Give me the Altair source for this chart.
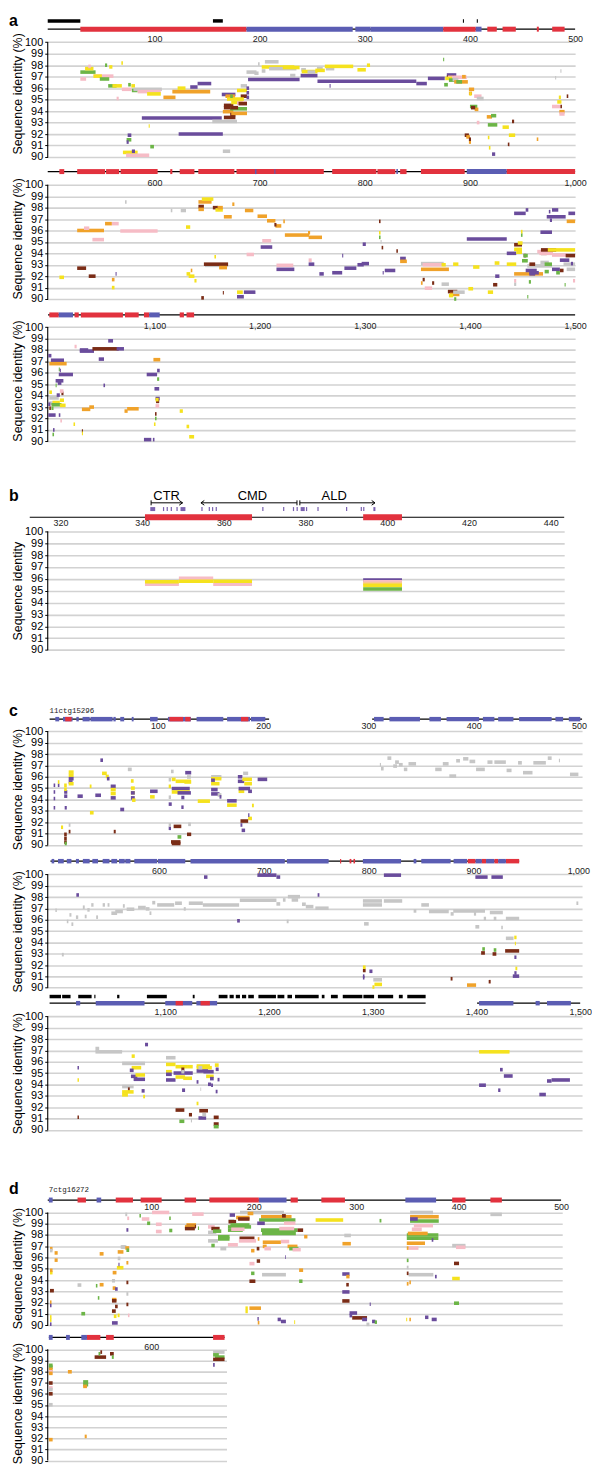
import altair as alt
import pandas as pd

NARROW = "Liberation Sans Narrow, Arial Narrow, Liberation Sans, Arial, sans-serif"
SANS = "Liberation Sans, Arial, Helvetica, sans-serif"
MONO = "Liberation Mono, DejaVu Sans Mono, monospace"

COLOR_KEYS = ["P", "Y", "O", "B", "G", "K", "S", "Q", "R", "U", "N"]
COLOR_VALS = ["#6a4c9c", "#f5e21e", "#f0a22a", "#7a2c16", "#6cb547", "#f6bcc6",
              "#c6c6c6", "#f8c894", "#e2323e", "#5b5db3", "#111111"]

# ---------------- panel a, row 1 ----------------
A1_TICKS = [100, 200, 300, 400, 500]
A1_LINE = [(-1.5, 500)]
A1_EXONS = [(29.5, 187.5, "R"), (187.5, 288.5, "U"), (291, 305.5, "U"), (305.5, 374.6, "U"),
            (374.6, 405.5, "R"), (405.5, 411, "U"), (416.5, 425.5, "R"), (431, 443.6, "R"),
            (463.6, 465.5, "R"), (478.2, 490, "R")]
A1_BARS = [(-1.5, 29.5), (155.6, 165), (393.3, 394.3), (406.5, 407.5)]
A1_SEGS = [
    (29.5, 35, 96.8, "K"), (29.5, 44, 97.4, "G"), (34, 42, 97.7, "Y"), (37, 39.5, 97.9, "K"),
    (42, 61, 97.05, "K"), (42, 50, 97.05, "Y"), (48, 57, 96.8, "G"), (53, 55, 98.0, "G"),
    (57, 60, 97.85, "Y"), (68.5, 70, 98.2, "Y"), (56, 64, 96.2, "G"), (60, 69, 96.2, "Y"),
    (64, 66, 95.1, "K"), (75, 77.5, 96.3, "G"), (69, 78, 95.9, "K"), (78, 81.5, 96.2, "Y"),
    (78.5, 84, 95.8, "G"), (80, 107, 95.9, "S"), (84, 106, 95.7, "K"), (93, 106, 95.5, "Y"),
    (108.5, 120, 95.2, "O"), (117, 153, 95.7, "O"), (122, 129.5, 96.0, "Y"), (134, 141, 96.1, "P"),
    (141, 154, 96.4, "P"), (88, 164, 93.4, "P"), (123, 165, 92.0, "P"), (155, 178.5, 93.1, "S"),
    (74.5, 78, 91.9, "P"), (73.5, 78, 91.5, "G"), (73.5, 75.5, 91.3, "P"), (96, 99.5, 90.9, "G"),
    (70, 84, 90.4, "Y"), (73, 95, 90.15, "K"), (78.5, 81.5, 90.5, "P"), (94.5, 95.5, 92.7, "Y"),
    (165, 172, 90.5, "S"), (164, 177, 95.45, "P"), (167.5, 176.5, 95.3, "O"), (166, 175, 94.5, "B"),
    (166, 175, 94.3, "B"), (165, 175, 93.95, "O"), (172, 177, 93.7, "B"), (173, 188, 93.8, "O"),
    (172, 188, 94.2, "G"), (172, 179.5, 94.3, "B"), (173, 184, 94.75, "Y"), (178.5, 188, 94.7, "K"),
    (180, 188, 94.65, "B"), (182, 188, 95.3, "B"), (169, 185, 95.05, "Y"), (166, 177, 93.45, "B"),
    (178.5, 188, 95.8, "Y"), (182, 188, 96.2, "S"), (172, 174.5, 95.3, "G"), (187.5, 190, 96.0, "P"),
    (187.5, 190, 95.6, "P"), (187.5, 190, 95.2, "P"), (187.5, 197, 97.4, "S"), (195, 199, 97.3, "S"),
    (198.5, 200, 98.1, "S"), (205, 218, 98.3, "S"), (202, 205.5, 97.5, "S"), (202, 233, 97.85, "Y"),
    (209, 235, 97.7, "S"), (222, 238, 97.8, "Y"), (229, 234, 97.1, "S"), (189, 238, 96.75, "P"),
    (239, 255, 97.1, "P"), (239.5, 244, 97.6, "S"), (240, 255, 97.45, "Y"), (245.5, 253, 97.4, "S"),
    (254.5, 260, 97.7, "S"), (253, 262, 97.55, "Y"), (263, 271, 97.7, "S"), (262, 289, 97.9, "Y"),
    (255, 349, 96.6, "P"), (349, 359, 96.4, "P"), (360, 376, 96.85, "P"), (293, 301, 97.6, "Y"),
    (302, 305, 98.0, "Y"), (266.5, 267.5, 96.2, "P"), (374.5, 375.5, 98.5, "G"), (378, 387, 97.15, "P"),
    (378, 385, 96.95, "B"), (379, 397, 96.95, "K"), (376.5, 383, 96.85, "Y"), (375.5, 379, 96.3, "G"),
    (380, 387, 96.7, "G"), (383.5, 389, 96.75, "S"), (385, 398, 96.55, "O"), (387, 392.5, 96.55, "G"),
    (392.5, 396, 97.0, "O"), (399, 404, 95.9, "O"), (399, 402, 95.55, "O"), (399.5, 401.5, 95.5, "Y"),
    (404, 411, 95.3, "K"), (406.5, 413, 95.1, "S"), (400, 407, 94.4, "G"), (404.5, 408, 94.15, "O"),
    (401, 405, 94.3, "B"), (395, 399, 91.9, "B"), (396.5, 400, 91.75, "O"), (399, 401, 91.3, "O"),
    (399, 401, 91.55, "B"), (406.5, 409, 93.0, "K"), (416, 421, 93.5, "O"), (420, 425, 93.6, "G"),
    (417, 426, 92.8, "G"), (431, 437, 92.6, "Y"), (440, 442, 93.1, "B"), (437, 443, 91.9, "Y"),
    (417, 418.5, 91.7, "Y"), (418, 419.5, 90.8, "Y"), (436, 437.5, 91.1, "B"), (421, 424, 90.25, "P"),
    (463.5, 465, 91.55, "O"), (483, 487, 94.8, "Y"), (478, 486, 94.4, "K"), (486, 487.5, 94.4, "B"),
    (484.5, 486.5, 95.2, "Y"), (485, 490, 93.95, "O"), (485, 490, 93.75, "K"), (492, 493.5, 95.3, "B"),
    (486, 487, 97.5, "S"), (481, 482, 96.9, "S"),
]

# ---------------- panel a, row 2 ----------------
A2_TICKS = [600, 700, 800, 900, 1000]
A2_LINE = [(498.5, 1000)]
A2_EXONS = [(509.6, 514.2, "R"), (526.5, 553, "R"), (554, 566.4, "R"), (567.8, 603, "R"),
            (615, 617, "R"), (624, 638, "R"), (641.7, 676, "R"), (678, 761, "R"), (769, 811, "R"),
            (812, 829, "R"), (833.6, 839.7, "R"), (853.4, 895, "R"), (897, 935, "U"), (935, 1000, "R"),
            (695.5, 697, "U"), (714, 715, "U"), (830, 831.5, "U")]
A2_SEGS = [
    (509.6, 514, 91.9, "Y"), (526.5, 535, 92.7, "B"), (537.5, 544, 92.0, "B"), (526.5, 552, 96.0, "O"),
    (533, 538, 96.2, "K"), (541, 552, 95.2, "K"), (553, 559.5, 96.6, "O"), (559.5, 566, 96.6, "K"),
    (567.5, 603, 95.95, "K"), (559.5, 562, 91.7, "O"), (559.5, 562, 91.0, "Y"), (563, 564, 92.2, "P"),
    (572, 573.5, 98.5, "S"), (615.5, 617, 97.75, "S"), (625, 630, 97.75, "S"), (630, 634, 96.3, "Y"),
    (630.5, 634, 92.2, "Y"), (632.5, 638, 92.0, "Y"), (634.5, 636, 92.5, "O"), (638, 640, 91.6, "Y"),
    (641.8, 654.3, 98.5, "O"), (645, 656, 98.75, "Y"), (641.8, 647, 98.1, "B"), (641.8, 647, 97.85, "O"),
    (655.5, 660.5, 98.0, "B"), (658, 665, 97.8, "Y"), (660, 665, 98.0, "O"), (666, 673.5, 97.2, "O"),
    (674, 676, 98.3, "O"), (686, 694, 97.75, "O"), (698, 707, 97.25, "O"), (707, 715, 96.85, "O"),
    (715, 720.6, 96.4, "O"), (714, 716, 96.5, "B"), (722.5, 724, 96.8, "O"), (724, 747, 95.6, "O"),
    (746, 748, 95.8, "O"), (746.6, 759.3, 95.4, "O"), (702.5, 711, 95.1, "K"), (701, 712, 94.55, "P"),
    (687.6, 694.6, 93.9, "K"), (657, 658.5, 93.7, "Y"), (648, 670, 92.95, "S"), (647, 670, 93.05, "B"),
    (661.5, 669, 92.75, "O"), (716, 732, 92.95, "K"), (716, 733, 92.6, "P"), (746.6, 752, 93.05, "P"),
    (746.6, 749.5, 93.4, "K"), (756.8, 761, 92.2, "P"), (769, 778.5, 92.3, "P"), (780.6, 792, 92.7, "P"),
    (793, 799, 93.0, "P"), (797, 804, 93.1, "P"), (798, 801, 94.8, "P"), (778.5, 779.5, 93.8, "P"),
    (819, 829, 92.5, "P"), (833.6, 839, 93.55, "P"), (833.6, 840, 93.3, "O"), (830, 831.5, 94.2, "B"),
    (813.5, 815, 96.8, "B"), (813.5, 815, 95.8, "Y"), (813.5, 815, 95.4, "G"), (816, 817.5, 94.5, "B"),
    (815, 816, 95.0, "S"), (817, 818, 92.3, "P"), (678.5, 685, 90.2, "P"), (678.5, 684, 90.6, "Y"),
    (685, 696, 90.6, "P"), (644.5, 647, 90.1, "B"), (665, 666, 90.55, "B"), (853.4, 875, 93.1, "S"),
    (855, 873, 93.0, "K"), (853.4, 880, 92.6, "O"), (873, 877, 93.0, "Y"), (855, 857, 91.7, "B"),
    (864, 866, 91.4, "B"), (853.4, 855, 91.4, "O"), (857, 864, 90.95, "K"), (873, 880, 91.3, "S"),
    (879, 888, 90.65, "B"), (881, 890, 90.4, "O"), (880, 884, 90.3, "Y"), (884, 895, 90.6, "S"),
    (885, 887, 90.0, "G"), (897, 935, 95.25, "P"), (884, 889, 93.05, "Y"), (903, 909, 92.8, "Y"),
    (898.5, 903, 90.9, "Y"), (922, 926, 91.25, "B"), (917, 922, 90.6, "Y"), (924, 928, 92.0, "P"),
    (923.5, 928, 93.15, "Y"), (942, 969.5, 92.2, "O"), (935, 944, 93.05, "Y"), (954.5, 978, 92.9, "S"),
    (935, 944, 94.0, "P"), (942, 949.5, 94.75, "B"), (942, 949.5, 94.35, "Y"), (945.5, 950, 94.9, "Y"),
    (944, 949.5, 94.1, "Y"), (951, 953.5, 93.8, "B"), (951, 955, 93.8, "G"), (949.5, 955, 93.35, "G"),
    (953, 963.5, 92.5, "P"), (956.5, 965.5, 92.3, "P"), (956.5, 962, 93.05, "B"), (956.5, 962, 92.2, "P"),
    (967.5, 973, 94.0, "B"), (966, 979, 94.0, "K"), (964, 975, 94.15, "K"), (967.5, 982, 94.3, "B"),
    (974, 1000, 94.3, "Y"), (967, 975, 93.2, "S"), (971, 978, 93.05, "G"), (978, 993, 93.85, "K"),
    (991, 1000, 93.8, "B"), (985.5, 994.5, 93.4, "P"), (989, 1000, 93.05, "S"), (978, 985.5, 92.6, "P"),
    (985.5, 989, 92.5, "B"), (971, 975, 92.4, "G"), (982, 985.5, 92.3, "G"), (992, 1000, 92.6, "S"),
    (996, 998, 93.1, "P"), (967, 978, 95.85, "P"), (942, 953, 97.5, "P"), (953, 955.5, 97.8, "P"),
    (978, 984, 97.8, "P"), (973, 991, 97.2, "P"), (993.6, 1000, 97.5, "P"), (992, 1000, 96.8, "O"),
    (976, 978, 96.9, "P"), (975, 976.5, 97.65, "P"), (942, 944, 91.3, "S"), (942, 944, 91.6, "K"),
    (956, 958, 91.5, "G"), (990, 991, 91.25, "G"), (954.5, 955.5, 90.2, "G"), (948.5, 950, 95.6, "G"),
    (948.5, 950, 95.9, "Y"), (998, 1000, 91.6, "K"),
]

# ---------------- panel a, row 3 ----------------
A3_TICKS = [1100, 1200, 1300, 1400, 1500]
A3_LINE = [(998.8, 1500)]
A3_EXONS = [(1000, 1009, "R"), (1009, 1022.5, "U"), (1024, 1028, "R"), (1030, 1070, "R"),
            (1072, 1085, "R"), (1090, 1095, "R"), (1095, 1105, "U"), (1124, 1128, "R"),
            (1130.5, 1137.7, "R")]
A3_SEGS = [
    (999, 1002, 97.5, "P"), (1001.5, 1014, 97.1, "P"), (1000, 1016.5, 96.8, "O"), (1009, 1010, 96.3, "G"),
    (1009, 1022.5, 95.85, "P"), (1010, 1011, 96.2, "P"), (1006, 1013.4, 95.3, "P"), (1006, 1007, 94.9, "G"),
    (1008, 1011.5, 95.1, "P"), (1000, 1002.5, 94.3, "Y"), (1000, 1009, 93.8, "S"), (1007, 1010, 94.05, "P"),
    (1011.5, 1013.5, 94.2, "B"), (1010, 1013.5, 94.4, "K"), (1010, 1014, 93.6, "Y"), (1000, 1009, 93.35, "S"),
    (1003, 1010, 93.4, "Y"), (1002, 1011.6, 93.2, "G"), (1000, 1002, 93.0, "K"), (1010, 1015.5, 93.15, "Y"),
    (999, 1001, 93.25, "P"), (1000, 1001.5, 92.9, "B"), (1002, 1004, 92.9, "G"), (999, 1006, 92.3, "P"),
    (1009, 1010.5, 92.3, "P"), (1010.5, 1012, 91.8, "K"), (1003, 1004.5, 90.6, "G"), (1003.5, 1005, 91.0, "P"),
    (1024, 1026, 98.3, "K"), (1029, 1042.5, 97.9, "P"), (1041, 1066, 98.1, "B"), (1056, 1060.6, 98.8, "P"),
    (1064, 1071, 98.1, "P"), (1029, 1037, 98.0, "P"), (1047, 1052, 97.2, "P"), (1051.5, 1053, 94.9, "P"),
    (1031, 1039, 92.8, "O"), (1038, 1042.5, 93.0, "O"), (1023, 1024.5, 91.5, "Y"), (1031, 1032, 90.9, "B"),
    (1031, 1032, 90.7, "Y"), (1071.5, 1074.5, 92.65, "O"), (1074, 1085, 92.85, "O"), (1099, 1105.5, 97.15, "O"),
    (1092.6, 1102.5, 95.85, "P"), (1102.5, 1105, 96.2, "P"), (1102.5, 1104.5, 95.45, "G"), (1100, 1104.5, 94.6, "P"),
    (1101, 1105, 93.75, "P"), (1101.5, 1104.5, 93.5, "B"), (1101, 1104, 93.65, "Y"), (1101, 1104.5, 93.1, "K"),
    (1100.5, 1102, 92.0, "G"), (1100.5, 1102, 92.4, "B"), (1099.5, 1101, 91.5, "Y"), (1090, 1097, 90.15, "P"),
    (1098.5, 1100, 90.15, "P"), (1124, 1127, 92.65, "Y"), (1130.5, 1133, 91.3, "Y"), (1133, 1137.7, 90.4, "Y"),
]

# ---------------- panel b ----------------
B_TICKS = [320, 340, 360, 380, 400, 420, 440]
B_LINE = [(312.5, 443.3)]
B_EXONS = [(340.7, 366.9, "R"), (394.1, 403.6, "R")]
B_SITES = [(342.0, 343.2), (345.1, 345.4), (346.0, 346.3), (347.0, 347.3), (348.4, 348.7),
           (349.4, 350.6), (354.5, 354.8), (356.3, 356.6), (357.1, 357.4), (358.0, 358.3),
           (369.4, 369.7), (374.5, 374.8), (376.9, 377.2), (377.8, 378.1), (378.8, 379.8),
           (380.1, 380.4), (382.9, 383.2), (389.9, 390.2), (393.5, 393.8), (394.1, 394.4),
           (396.6, 397.1)]
B_DOMAINS = ["CTR", "CMD", "ALD"]
B_DOMAIN_MID = [346, 367, 387]
B_ARROWS = [(342.2, 349.9), (354.4, 377.9), (378.6, 397.0)]
B_HEAD_RIGHT = [349.9, 397.0]
B_HEAD_LEFT = [354.4]
B_STOPS = [342.2, 377.9, 378.6]
B_SEGS = [
    (340.7, 349, 95.55, "K"), (340.7, 349, 95.75, "Y"), (349, 357.4, 96.05, "K"), (349, 357.4, 95.8, "Y"),
    (357.4, 366.9, 95.55, "K"), (357.4, 366.9, 95.8, "Y"),
    (394.1, 403.6, 95.9, "P"), (394.1, 403.6, 95.75, "K"), (394.1, 403.6, 95.6, "Q"),
    (394.1, 403.6, 95.45, "Y"), (394.1, 403.6, 95.15, "G"),
]

# ---------------- panel c, row 1 ----------------
C1_TICKS = [100, 200, 300, 400, 500]
C1_LINE = [(-2.8, 205.7), (303.6, 503)]
C1_EXONS = [(2.6, 6.3, "U"), (9.9, 19, "U"), (22.6, 24.9, "U"), (28.5, 35.3, "U"), (36, 57, "U"),
            (57.8, 60, "U"), (64.3, 68, "U"), (75.2, 77, "U"), (92.6, 99.8, "U"), (109.6, 131.4, "U"),
            (136.8, 162.2, "U"), (165.8, 187.6, "U"), (188.5, 202.1, "U"),
            (12, 18, "R"), (111, 124, "R"), (126, 131, "R"), (179, 186, "R"),
            (305.4, 314.5, "U"), (320, 349, "U"), (358, 368.9, "U"), (374.3, 405.2, "U"),
            (408.8, 419.7, "U"), (423.3, 437.8, "U"), (443.2, 474.1, "U"), (477.7, 485, "U"),
            (490.4, 501.3, "U")]
C1_SEGS = [
    (1, 2.5, 95.25, "P"), (1, 2.5, 94.66, "P"), (1, 2.5, 94.08, "P"), (1, 2.5, 93.27, "P"),
    (5, 6.5, 95.25, "P"), (5, 6.5, 95.54, "Y"), (8, 10, 91.55, "Y"),
    (11, 14, 94.66, "P"), (11, 14, 94.29, "P"), (11.5, 13.5, 93.27, "P"), (11, 13.5, 95.25, "Y"),
    (11, 13.5, 94.9, "Y"), (11, 13.5, 90.93, "B"), (11, 13.5, 90.58, "B"), (11, 13.5, 90.25, "B"),
    (11.5, 13.5, 90.12, "G"), (15.3, 19, 95.54, "P"), (15.3, 20, 96.41, "Y"), (15.3, 20, 96.12, "Y"),
    (15.3, 20, 95.83, "P"), (15.3, 20, 95.39, "Y"), (15.3, 17, 91.17, "B"), (15.3, 17, 91.75, "S"),
    (23.7, 28.7, 94.29, "P"), (35.3, 37, 95.16, "Y"), (40.6, 46, 94.37, "P"), (35.5, 39, 92.83, "Y"),
    (45.4, 47.9, 97.46, "P"), (47, 51.5, 96.3, "Y"), (50.5, 53.4, 96.03, "Y"), (51.6, 54.1, 95.83, "P"),
    (55.2, 60, 95.16, "P"), (55.2, 60, 94.87, "Y"), (55.2, 60, 94.52, "Y"), (55.2, 60, 94.14, "P"),
    (58.1, 60, 91.17, "B"), (64.3, 68, 93.12, "P"), (71.5, 75.2, 96.65, "S"), (74.4, 77, 95.63, "Y"),
    (74.4, 78.1, 95.0, "Y"), (74.4, 78.1, 94.6, "Y"), (74.4, 78.1, 94.58, "P"), (74.4, 78.1, 94.14, "P"),
    (75.5, 78.8, 93.94, "Y"), (92.6, 99.8, 94.72, "P"), (92.6, 97, 94.23, "Y"),
    (112.5, 115, 96.47, "S"), (110.3, 112.5, 95.74, "S"), (110.3, 112.5, 95.16, "Y"),
    (113.2, 116.9, 95.77, "Y"), (116.9, 131.4, 95.6, "Y"), (113.2, 130.3, 94.96, "P"),
    (113.2, 130.3, 94.66, "Y"), (118.7, 131.4, 94.58, "P"), (126, 131.7, 96.36, "P"),
    (127.7, 131.4, 95.98, "S"), (125.2, 131.7, 95.54, "Y"), (110.3, 112.5, 94.2, "S"),
    (110.3, 113.2, 93.59, "P"), (122.3, 125.2, 94.17, "P"), (122.3, 124.5, 93.32, "P"),
    (110.3, 112.5, 91.46, "P"), (110.3, 112.5, 91.75, "S"), (115, 122.3, 91.63, "B"),
    (128.8, 131.4, 91.81, "S"), (127.7, 131.7, 90.93, "B"), (118.7, 122.3, 90.7, "G"),
    (112.5, 121.5, 90.26, "B"), (113.2, 121.5, 90.12, "B"), (137.9, 149.5, 93.85, "Y"),
    (150.6, 160.4, 96.0, "S"), (150.6, 160.4, 95.83, "Y"), (150.6, 154.2, 95.69, "P"),
    (150.6, 158.6, 95.39, "Y"), (150.6, 156.8, 94.87, "P"), (150.6, 158.6, 94.49, "P"),
    (156.8, 160.4, 94.4, "S"), (158.6, 160.4, 94.23, "P"), (165.8, 174.9, 93.88, "P"),
    (165.8, 174.9, 93.5, "Y"), (176, 180.3, 96.0, "P"), (176, 182.1, 95.6, "P"),
    (176.7, 182.1, 94.72, "Y"), (176.7, 187.6, 94.96, "P"), (182.1, 189.4, 95.39, "Y"),
    (180.3, 189.4, 95.77, "Y"), (181, 185.8, 96.3, "S"), (185.8, 189.4, 94.72, "P"),
    (189.4, 191.2, 93.47, "Y"), (185.8, 189.4, 92.33, "Y"), (185.8, 187, 92.62, "P"),
    (178.5, 185.8, 92.1, "B"), (179.6, 182.9, 91.28, "P"), (178.5, 180.3, 91.75, "P"),
    (194.8, 203.9, 95.77, "P"),
    (318.1, 321.8, 97.64, "S"), (310.9, 312, 97.06, "S"), (312, 314.5, 96.71, "S"), (325.4, 329, 97.29, "S"),
    (323.6, 327.2, 96.94, "S"), (329, 332.6, 97.06, "S"), (333.7, 337, 96.65, "S"), (338.1, 345.3, 97.14, "S"),
    (363.5, 369.6, 96.65, "S"), (370.7, 376.2, 97.14, "S"), (376.9, 383.4, 96.06, "S"), (383.4, 387, 97.41, "S"),
    (390, 395, 97.58, "S"), (396.1, 401.5, 97.35, "S"), (402.3, 410.6, 96.65, "S"), (413.1, 417.9, 97.29, "S"),
    (419.7, 430.6, 97.29, "S"), (431.3, 436, 96.56, "S"), (442.2, 445.8, 97.23, "S"), (446.9, 455.9, 96.36, "S"),
    (456.7, 468.6, 97.23, "S"), (470.4, 474.1, 97.64, "S"), (481, 482, 97.43, "S"), (491.5, 499.5, 96.21, "S"),
]

# ---------------- panel c, row 2 ----------------
C2_TICKS = [600, 700, 800, 900, 1000]
C2_LINE = [(496.4, 943.6)]
C2_EXONS = [(497.5, 500, "U"), (503.6, 509.1, "U"), (512, 516.4, "U"), (520.7, 523.6, "U"),
            (527.3, 533.8, "U"), (536.4, 541.8, "U"), (546.2, 552.7, "U"), (554.5, 560, "U"),
            (561.8, 567.3, "U"), (567.8, 572.7, "U"), (576.4, 598.2, "U"), (599, 625, "U"),
            (630, 720, "U"), (722, 761.8, "U"), (772.7, 773.8, "R"), (781.8, 783.5, "R"),
            (785.5, 787, "R"), (794.5, 830.9, "U"), (842.9, 845.5, "U"), (850.2, 878.2, "U"),
            (881, 893.8, "U"), (894.5, 902, "R"), (902, 908, "U"), (908, 912, "R"), (912, 920, "U"),
            (920, 923.6, "R"), (923.6, 930.9, "U"), (931, 943.6, "R")]
C2_SEGS = [
    (642.9, 646.2, 99.77, "P"), (693.8, 712, 99.94, "P"), (712, 715.6, 99.77, "P"), (814.5, 830.9, 99.94, "P"),
    (901.8, 913.5, 99.77, "P"), (917.1, 928, 99.77, "P"), (521.1, 523.6, 98.19, "P"), (674.5, 677.1, 95.91, "P"),
    (751.3, 753, 98.19, "P"), (794.5, 796, 91.02, "P"), (794.5, 796, 90.88, "P"), (800.7, 803.6, 91.45, "P"),
    (937.5, 943.6, 91.02, "P"), (939, 941.1, 91.3, "P"), (939, 941, 92.69, "P"),
    (501.1, 502.5, 96.84, "S"), (512, 513.5, 95.85, "S"), (514.5, 516.4, 96.43, "S"), (516.4, 518.2, 95.61, "S"),
    (520.7, 522.9, 96.23, "S"), (527.3, 529.1, 97.11, "S"), (529.1, 530.9, 96.29, "S"), (531.6, 533.8, 96.87, "S"),
    (535.3, 537.5, 97.31, "S"), (540, 541.8, 96.23, "S"), (546.2, 548.4, 97.31, "S"), (550.9, 552.7, 97.31, "S"),
    (554.5, 560, 96.58, "S"), (558.2, 565.5, 96.73, "S"), (565.5, 567.3, 97.22, "S"), (569.1, 576.4, 96.93, "S"),
    (580, 587.3, 97.08, "S"), (587.3, 590.9, 96.96, "S"), (590.9, 592.7, 96.58, "S"), (593.5, 596.4, 97.51, "S"),
    (598.2, 614.5, 97.31, "S"), (615.3, 621.8, 97.46, "S"), (623.6, 625.5, 96.96, "S"), (628.4, 641.8, 97.46, "S"),
    (641.8, 676.4, 97.31, "S"), (677.1, 712, 97.72, "S"), (712, 715.6, 97.4, "S"), (718.2, 720.7, 97.75, "S"),
    (722.9, 734.5, 98.04, "S"), (726.5, 732.7, 97.75, "S"), (736.4, 740, 97.37, "S"), (740, 747.3, 97.16, "S"),
    (749.1, 761.8, 97.02, "S"), (721.8, 723.6, 95.85, "S"), (794.5, 812.7, 97.66, "S"), (794.5, 812.7, 97.31, "S"),
    (814.5, 832, 97.66, "S"), (795.6, 800, 95.64, "S"), (842.9, 845.5, 96.78, "S"), (850.2, 857.5, 97.31, "S"),
    (857.5, 876.4, 96.73, "S"), (878.2, 881.1, 96.52, "S"), (880.7, 911, 96.78, "S"), (900.4, 902.5, 96.52, "S"),
    (901.8, 905.5, 95.38, "S"), (909.8, 912, 96.11, "S"), (915.6, 928, 96.64, "S"), (919.3, 921.8, 96.11, "S"),
    (926.5, 928, 95.32, "S"), (930.9, 943.6, 96.11, "S"), (930.9, 938.2, 94.36, "S"), (998.2, 1000, 97.46, "S"),
    (507.3, 509.1, 92.92, "S"), (804.4, 812.7, 90.7, "S"),
    (907.3, 910.9, 93.07, "B"), (918.2, 921.8, 92.98, "B"), (930.2, 943.6, 93.25, "B"), (878.2, 880, 90.79, "B"),
    (914.5, 916.4, 90.53, "B"), (794.5, 797.1, 91.52, "B"), (908.4, 910.9, 93.42, "G"), (919.3, 921.8, 93.33, "G"),
    (794.5, 797.1, 91.81, "Y"), (805.5, 812.7, 90.29, "Y"), (938.9, 941.1, 94.44, "Y"), (940, 941.8, 91.7, "Y"),
    (803.6, 805.5, 90.06, "Y"), (939.5, 940.5, 93.9, "Y"), (893.8, 902.5, 90.23, "O"),
]

# ---------------- panel c, row 3 ----------------
C3_TICKS = [1100, 1200, 1300, 1400, 1500]
C3_LINE = [(988.5, 1351), (1400.6, 1500)]
C3_EXONS = [(1014, 1018, "U"), (1033, 1080, "U"), (1100, 1126, "U"), (1130, 1150, "U"),
            (1110, 1117, "R"), (1134, 1143, "R"), (1402.5, 1435.6, "U"), (1457, 1461, "U"),
            (1468, 1491, "U")]
C3_BARS = [(988.5, 999.5), (1000.6, 1008.7), (1016.1, 1029), (1031.6, 1032.7), (1053.6, 1055.8),
           (1082.3, 1101.5), (1126.5, 1128.3), (1151.5, 1160), (1162, 1166), (1168, 1172),
           (1174, 1178), (1180, 1185.4), (1189.8, 1206.7), (1208.2, 1214.8), (1217.8, 1222.2),
           (1225.1, 1247.9), (1250.9, 1253.5), (1259.7, 1266.3), (1271.1, 1290), (1291, 1301.3),
           (1305, 1319.7), (1325.2, 1328.9), (1333.3, 1351)]
C3_SEGS = [
    (1015.4, 1016.8, 95.48, "P"), (1015.4, 1016.8, 94.4, "Y"), (1015.4, 1016.8, 91.11, "B"),
    (1032.7, 1058.4, 96.88, "S"), (1032.7, 1036.3, 97.17, "S"), (1058.4, 1080.5, 95.86, "S"),
    (1067.6, 1070.6, 96.5, "Y"), (1067.6, 1076.8, 95.48, "Y"), (1065.8, 1069.5, 95.25, "P"),
    (1066.9, 1073.1, 94.72, "P"), (1069.5, 1080.5, 94.46, "P"), (1071.3, 1080.5, 94.84, "Y"),
    (1058.4, 1069.5, 93.82, "S"), (1064, 1065.8, 93.59, "B"), (1058.4, 1069.5, 93.35, "Y"),
    (1058.4, 1064, 93.09, "Y"), (1077.2, 1080.1, 93.44, "P"), (1078.7, 1080.5, 92.94, "Y"),
    (1080.5, 1083.4, 97.52, "P"), (1100.7, 1109.9, 96.36, "S"), (1100.7, 1109.9, 95.77, "Y"),
    (1109.9, 1121, 95.57, "Y"), (1100.7, 1106.3, 95.13, "Y"), (1100.7, 1106.3, 94.9, "P"),
    (1108, 1126.5, 95.01, "P"), (1100.7, 1109.9, 94.4, "P"), (1109.9, 1119.1, 94.66, "Y"),
    (1117.3, 1125.8, 94.55, "Y"), (1116.2, 1119.1, 93.5, "P"), (1121, 1126.5, 95.57, "Y"),
    (1115.5, 1118.4, 95.34, "B"), (1115.5, 1118.4, 95.13, "S"), (1130.2, 1143.1, 95.63, "Y"),
    (1130.2, 1144.9, 95.48, "Y"), (1130.2, 1141.2, 95.19, "P"), (1132, 1135.7, 95.48, "S"),
    (1136.8, 1146.7, 95.13, "P"), (1139.4, 1146.7, 94.72, "Y"), (1143.1, 1146.7, 94.52, "P"),
    (1148.6, 1151.5, 95.34, "P"), (1147.8, 1151.5, 95.71, "Y"), (1141.2, 1144.2, 94.02, "P"),
    (1130.2, 1132, 94.23, "P"), (1144.2, 1146, 93.94, "P"), (1148.6, 1150.4, 93.38, "P"),
    (1150.4, 1152.3, 94.43, "P"), (1133.9, 1134.6, 93.59, "S"), (1130.2, 1132, 92.33, "Y"),
    (1109.9, 1118.4, 91.75, "B"), (1122.8, 1125.8, 91.34, "B"), (1132.8, 1141.2, 91.69, "B"),
    (1113.6, 1118.4, 90.76, "G"), (1124.7, 1125.8, 90.82, "S"), (1132, 1139.4, 91.05, "P"),
    (1135.7, 1139.4, 91.34, "S"), (1146.7, 1151.5, 91.11, "B"), (1146.7, 1151.5, 90.52, "B"),
    (1146.7, 1151.5, 90.29, "G"), (1402.5, 1431.9, 96.88, "Y"), (1402.5, 1409.1, 93.94, "P"),
    (1422.7, 1425.3, 95.31, "P"), (1420.9, 1423.1, 93.5, "P"), (1426.4, 1434.9, 94.75, "P"),
    (1460.6, 1466.9, 93.12, "P"), (1468, 1472.4, 94.31, "P"), (1472.4, 1490.1, 94.4, "P"),
]

# ---------------- panel d, row 1 ----------------
D1_TICKS = [100, 200, 300, 400, 500]
D1_LINE = [(-1.1, 500)]
D1_EXONS = [(0, 3.7, "U"), (28, 36.2, "R"), (46.6, 51.1, "U"), (65.3, 82.1, "R"), (89.6, 110.1, "R"),
            (132.5, 143.7, "R"), (156.7, 205, "R"), (205, 232, "U"), (236, 243, "R"), (266, 289, "R"),
            (348, 378, "U"), (393.7, 406.7, "R"), (431, 442.2, "R")]
D1_SEGS = [
    (1.1, 3.6, 96.79, "O"), (1.1, 3.6, 96.62, "S"), (5.6, 8.6, 96.41, "O"), (5.6, 8.6, 95.77, "O"),
    (1.1, 3.6, 94.66, "Y"), (1.1, 3.6, 94.87, "O"), (1.1, 4.9, 93.06, "B"), (1.1, 2.6, 92.04, "O"),
    (1.1, 2.6, 91.75, "P"), (1.1, 2.6, 90.73, "Y"), (1.1, 2.6, 90.45, "Y"), (1.1, 2.6, 90.09, "P"),
    (28, 31.7, 93.56, "S"), (45.9, 47.4, 93.5, "G"), (31.7, 35.4, 91.02, "G"), (49.6, 53.4, 96.33, "O"),
    (49.6, 53.4, 93.59, "O"), (47.8, 49.3, 92.42, "G"), (67.2, 72.8, 96.5, "O"), (62.3, 66, 94.66, "O"),
    (66.4, 72.8, 95.1, "Y"), (67.9, 69, 95.39, "P"), (70.1, 74.6, 96.94, "S"), (67.2, 69.8, 95.92, "S"),
    (62.3, 65.3, 93.29, "O"), (61.6, 64.6, 93.94, "S"), (64.6, 67.2, 93.21, "P"), (61.6, 66, 92.27, "O"),
    (61.6, 66, 92.16, "B"), (64.6, 67.2, 91.66, "B"), (61.6, 65.3, 91.25, "B"), (63.4, 66, 90.79, "Y"),
    (67.2, 69, 90.87, "Y"), (61.6, 67.2, 90.2, "P"), (70.9, 75.7, 96.94, "S"), (74.6, 78.4, 96.85, "O"),
    (75.7, 78.4, 96.65, "G"), (75.7, 77.6, 95.54, "O"), (75.7, 77.6, 93.79, "B"), (75.7, 77.6, 92.77, "S"),
    (75.7, 77.6, 91.84, "B"), (77.2, 78.7, 90.87, "K"), (75.7, 77.6, 98.45, "P"), (74.6, 76.5, 99.83, "S"),
    (76.5, 78.4, 99.48, "K"), (88.4, 89.9, 99.71, "G"), (95.9, 98.9, 99.04, "G"), (90.7, 98.1, 99.42, "K"),
    (100.7, 117.5, 100.0, "K"), (104.5, 110.1, 98.95, "K"), (104.5, 110.1, 98.31, "K"), (117.5, 119, 99.48, "G"),
    (117.5, 120.5, 98.4, "G"), (139.9, 151.1, 99.85, "K"), (134.3, 143.7, 98.89, "O"), (134.3, 143.7, 98.75, "B"),
    (145.5, 146.6, 98.6, "G"),
    (176.5, 181.7, 99.77, "P"), (175.4, 180.9, 99.24, "S"), (175.4, 182.8, 99.18, "B"), (182.8, 195.9, 99.55, "O"),
    (184.7, 195.9, 99.42, "B"), (186.6, 229.5, 100.0, "S"), (194, 199.6, 99.91, "O"), (177.2, 195.9, 98.89, "G"),
    (207.1, 236.9, 99.62, "O"), (205.2, 240.7, 99.33, "G"), (203.4, 210.8, 99.04, "P"), (227.6, 231.3, 99.7, "B"),
    (229.5, 240.7, 99.04, "K"), (260.4, 287.3, 99.33, "Y"), (322.8, 324.6, 99.27, "G"),
    (352.6, 375, 100.0, "S"), (352.6, 380.6, 99.62, "O"), (352.6, 380.6, 99.24, "G"), (352.6, 360.1, 99.42, "P"),
    (356.3, 375, 98.83, "K"), (431, 442.2, 99.83, "S"),
    (132.8, 142.5, 98.72, "O"), (132.8, 142.5, 98.57, "B"),
    (155.4, 161.9, 98.72, "K"), (158.6, 166.7, 98.57, "B"), (155.4, 163.5, 98.23, "S"), (160.2, 168.3, 98.34, "G"),
    (174.8, 197.4, 98.72, "G"), (174.8, 189.3, 98.43, "G"), (178, 191, 98.51, "K"),
    (165.1, 176.4, 97.85, "G"), (165.1, 176.4, 97.65, "G"), (155.4, 165.1, 97.48, "S"), (158.6, 161.9, 97.07, "G"),
    (167.4, 173.2, 96.79, "S"), (174.8, 184.5, 97.13, "K"), (186.1, 200.7, 97.71, "B"), (185.5, 202.3, 97.48, "K"),
    (203.9, 205.5, 97.65, "O"), (207.1, 242.7, 98.43, "G"), (208.1, 241.1, 98.14, "G"), (242.7, 248.2, 98.43, "B"),
    (249.2, 252.4, 97.85, "O"), (224.9, 239.5, 98.57, "K"), (208.8, 226.5, 97.36, "O"), (226.5, 234.6, 97.42, "K"),
    (233, 242.7, 96.99, "O"), (234.6, 243.7, 96.79, "G"), (237.9, 245.9, 96.7, "K"), (208.8, 212.6, 96.99, "O"),
    (202.9, 205.5, 96.79, "B"), (210.4, 216.8, 96.79, "K"), (197.4, 200.7, 96.61, "O"), (195.8, 200.7, 95.46, "K"),
    (202.9, 206.2, 95.69, "B"), (230.7, 231.4, 96.04, "P"), (244.3, 248.2, 94.88, "O"), (197.4, 200.7, 94.6, "G"),
    (208.1, 231.4, 94.48, "S"), (195.8, 201.6, 93.9, "B"), (244.3, 247.6, 93.9, "G"), (191.9, 194.2, 91.51, "Y"),
    (191.9, 194.2, 91.22, "Y"), (195.8, 207.1, 91.51, "O"), (203.6, 204.9, 90.56, "P"), (203.9, 205.5, 90.22, "O"),
    (223.3, 226.5, 90.51, "P"), (226.5, 231.4, 90.33, "P"), (239.5, 240.4, 90.27, "Y"),
    (288.4, 294.8, 97.96, "S"), (286.6, 294.8, 97.23, "O"),
    (286.4, 293.5, 94.54, "P"), (290.3, 293.5, 94.31, "O"), (290.3, 292.8, 93.59, "B"), (286.4, 293.5, 92.95, "P"),
    (286.4, 293.5, 92.15, "B"), (313.2, 314.2, 91.86, "P"), (293.5, 300.9, 91.08, "P"), (293.5, 296.1, 90.85, "P"),
    (296.1, 310.6, 90.65, "B"), (305.8, 310.6, 90.51, "P"), (315.5, 318.7, 90.33, "P"), (318.1, 320.3, 90.27, "G"),
    (310, 312.9, 90.07, "S"), (348.8, 349.8, 90.51, "Y"), (367.2, 370.5, 90.7, "P"), (373.7, 378.6, 90.51, "P"),
    (351.1, 375.3, 94.48, "S"), (376.9, 378.6, 94.31, "P"), (349.4, 351.1, 94.6, "B"), (349.4, 351.1, 93.67, "O"),
    (349.4, 351.1, 95.75, "G"), (349.4, 351.1, 95.12, "S"), (349.4, 367.2, 97.27, "O"), (349.4, 380.2, 98.0, "G"),
    (349.4, 380.2, 97.71, "G"), (350.4, 369.8, 98.14, "O"), (354.3, 364, 98.51, "K"), (351.1, 360.8, 96.84, "K"),
    (349.4, 351.1, 96.84, "O"), (373.7, 375.3, 97.56, "P"), (351.9, 353.4, 93.8, "O"), (351.9, 353.4, 90.5, "O"),
    (395.5, 400.4, 95.48, "B"), (393.7, 401.1, 94.14, "Y"), (395.5, 400.4, 91.95, "G"), (393.7, 406.7, 97.06, "S"),
    (397.4, 406.7, 96.91, "K"),
]

# ---------------- panel d, row 2 ----------------
D2_TICKS = [600]
D2_LINE = [(500, 671.6)]
D2_EXONS = [(500, 503.7, "U"), (516.8, 520.5, "U"), (531.7, 537.2, "U"), (537.2, 550.3, "R"),
            (555.9, 563.4, "R"), (660.4, 671.6, "R")]
D2_SEGS = [
    (500, 503.7, 98.56, "G"), (500, 503.7, 98.4, "G"), (500, 503.7, 98.2, "O"), (500, 503.7, 97.98, "K"),
    (500, 503.7, 97.84, "O"), (500, 503.7, 96.97, "B"), (500, 503.7, 96.53, "K"), (500, 503.7, 96.38, "S"),
    (500, 503.7, 96.0, "B"), (500, 503.7, 95.02, "S"), (500, 503.7, 91.88, "O"), (518.6, 522.4, 97.98, "O"),
    (533.5, 538.4, 97.07, "G"), (533.5, 538.4, 96.82, "G"), (533.5, 537.2, 96.67, "O"), (535, 537, 92.17, "O"),
    (544.7, 555.9, 99.3, "B"), (548.5, 550.3, 99.6, "G"), (550.3, 552, 99.75, "B"), (559.7, 563.4, 99.6, "B"),
    (561.5, 563.4, 99.3, "G"), (660.4, 671.6, 99.75, "S"), (660.4, 666, 99.5, "G"), (662.3, 671.6, 99.3, "G"),
    (660.4, 671.6, 99.1, "B"), (660.4, 662, 98.6, "P"),
]

# ---------------- layout (page pixel positions) ----------------
ROWS = [
    dict(key="a1", dom=(-1.5, 500), w=531, prev=8, y100=36.5, y90=152, track=23.3, lab=32.7, ew=5,
         ticks=A1_TICKS, line=A1_LINE, exons=A1_EXONS, segs=A1_SEGS, bars=A1_BARS, bars_y=15,
         letter="a", letter_y=15, title="Sequence identity (%)", title_y=88),
    dict(key="a2", dom=(498.5, 1000), w=531, prev=152, y100=180, y90=295, track=166.7, lab=177.3, ew=5,
         ticks=A2_TICKS, line=A2_LINE, exons=A2_EXONS, segs=A2_SEGS, title="Sequence identity (%)",
         title_y=234),
    dict(key="a3", dom=(998.5, 1500), w=531, prev=295, y100=323.3, y90=438.3, track=311, lab=321.7, ew=5,
         ticks=A3_TICKS, line=A3_LINE, exons=A3_EXONS, segs=A3_SEGS, title="Sequence identity (%)",
         title_y=377),
    dict(key="b", dom=(316.9, 443.3), w=520, prev=438.3, y100=528.3, y90=647.7, track=514, lab=519, ew=6,
         ticks=B_TICKS, line=B_LINE, exons=B_EXONS, segs=B_SEGS, letter="b", letter_y=493,
         title="Sequence identity", title_y=588),
    dict(key="c1", dom=(-4.6, 503), w=538, prev=647.7, y100=729, y90=843.3, track=716.7, lab=722.8, ew=4.5,
         ticks=C1_TICKS, line=C1_LINE, exons=C1_EXONS, segs=C1_SEGS, letter="c", letter_y=709,
         contig="11ctg15296", contig_x=-2.8, contig_y=709, title="Sequence identity (%)", title_y=787),
    dict(key="c2", dom=(493.8, 1003.6), w=538, prev=843.3, y100=872.7, y90=986.7, track=859.3, lab=868.3, ew=4.5,
         ticks=C2_TICKS, line=C2_LINE, exons=C2_EXONS, segs=C2_SEGS, title="Sequence identity (%)",
         title_y=930),
    dict(key="c3", dom=(986.7, 1501.8), w=538, prev=986.7, y100=1015, y90=1129.3, track=1001.7, lab=1010, ew=4.5,
         ticks=C3_TICKS, line=C3_LINE, exons=C3_EXONS, segs=C3_SEGS, bars=C3_BARS, bars_y=995,
         title="Sequence identity (%)", title_y=1072),
    dict(key="d1", dom=(-1.1, 501.1), w=518, prev=1129.3, y100=1212, y90=1325.5, track=1199.5, lab=1206, ew=5,
         ticks=D1_TICKS, line=D1_LINE, exons=D1_EXONS, segs=D1_SEGS, letter="d", letter_y=1188,
         contig="7ctg16272", contig_x=0, contig_y=1189, title="Sequence identity (%)", title_y=1268),
    dict(key="d2", dom=(498.9, 673.5), w=180, prev=1325.5, y100=1349, y90=1461, track=1337, lab=1346.5, ew=5,
         ticks=D2_TICKS, line=D2_LINE, exons=D2_EXONS, segs=D2_SEGS, title="Sequence identity (%)",
         title_y=1403),
]

CSCALE = alt.Scale(domain=COLOR_KEYS, range=COLOR_VALS)


def build_row(L):
    ppu = (L["y90"] - L["y100"]) / 10.0
    top = 100 + (L["y100"] - L["prev"]) / ppu
    H = L["y90"] - L["prev"]

    def dy(page_y):
        return 100 + (L["y100"] - page_y) / ppu

    xs = alt.Scale(domain=list(L["dom"]), nice=False, zero=False)
    ys = alt.Scale(domain=[90, top], nice=False, zero=False)
    xaxis = alt.Axis(values=L["ticks"], format=",d", orient="bottom", offset=-(L["y90"] - L["lab"]),
                     domain=False, ticks=False, tickSize=0, grid=False, labelPadding=0,
                     labelBaseline="middle", labelFontSize=9, labelFont=NARROW, labelColor="#222",
                     labelFlush=False, labelOverlap=False, title=None)
    yaxis = alt.Axis(values=list(range(90, 101)), grid=True, gridColor="#d2d2d2", gridWidth=1.6,
                     domain=False, tickSize=3, tickColor="#000", tickWidth=1,
                     labelFont=NARROW, labelFontSize=11, labelColor="#000", labelPadding=2,
                     labelOverlap=False, labelBound=False,
                     title=L["title"], titleFont=SANS, titleFontSize=12.5, titleFontWeight="normal",
                     titleColor="#000", titleX=-23, titleY=L["title_y"] - L["prev"],
                     titleAngle=270, titleAlign="center", titleBaseline="bottom")

    X = lambda f: alt.X(f, scale=xs, axis=xaxis, title=None)
    Y = lambda f: alt.Y(f, scale=ys, axis=yaxis, title=L["title"])

    base = alt.Chart(pd.DataFrame({"x": [L["dom"][0]], "y": [90], "y2": [100]})).mark_rule(
        color="#000", strokeWidth=1.1).encode(x=X("x:Q"), y=Y("y:Q"), y2="y2:Q")
    layers = [base]

    ty = dy(L["track"])
    line_df = pd.DataFrame({"x": [a for a, b in L["line"]], "x2": [b for a, b in L["line"]], "y": ty})
    layers.append(alt.Chart(line_df).mark_rule(color="#000", strokeWidth=1.2).encode(
        x=X("x:Q"), x2="x2:Q", y=Y("y:Q")))

    ex_df = pd.DataFrame({"x": [e[0] for e in L["exons"]], "x2": [e[1] for e in L["exons"]],
                          "c": [e[2] for e in L["exons"]], "y": ty})
    layers.append(alt.Chart(ex_df).mark_rule(strokeWidth=L["ew"], strokeCap="butt").encode(
        x=X("x:Q"), x2="x2:Q", y=Y("y:Q"), color=alt.Color("c:N", scale=CSCALE, legend=None)))

    if "bars" in L:
        bdf = pd.DataFrame({"x": [a for a, b in L["bars"]], "x2": [b for a, b in L["bars"]],
                            "y": dy(L["bars_y"])})
        layers.append(alt.Chart(bdf).mark_rule(color="#000", strokeWidth=3.5, strokeCap="butt").encode(
            x=X("x:Q"), x2="x2:Q", y=Y("y:Q")))

    sdf = pd.DataFrame(L["segs"], columns=["x", "x2", "y", "c"])
    layers.append(alt.Chart(sdf).mark_rule(strokeWidth=3.6, strokeCap="butt").encode(
        x=X("x:Q"), x2="x2:Q", y=Y("y:Q"), color=alt.Color("c:N", scale=CSCALE, legend=None)))

    if "letter" in L:
        ldf = pd.DataFrame({"t": [L["letter"]], "y": [dy(L["letter_y"])]})
        layers.append(alt.Chart(ldf).mark_text(font=SANS, fontSize=16, fontWeight="bold", align="left",
                                               baseline="middle", color="#000").encode(
            x=alt.value(-39), y=Y("y:Q"), text="t:N"))

    if "contig" in L:
        cdf = pd.DataFrame({"t": [L["contig"]], "x": [L["contig_x"]], "y": [dy(L["contig_y"])]})
        layers.append(alt.Chart(cdf).mark_text(font=MONO, fontSize=7.5, align="left",
                                               baseline="middle", color="#222").encode(
            x=X("x:Q"), y=Y("y:Q"), text="t:N"))

    if L["key"] == "b":
        ydom = dy(492.7)
        yarr = dy(499.5)
        ysite = dy(505.8)
        tdf = pd.DataFrame({"t": B_DOMAINS, "x": B_DOMAIN_MID, "y": ydom})
        layers.append(alt.Chart(tdf).mark_text(font=SANS, fontSize=13, align="center",
                                               baseline="middle", color="#000").encode(
            x=X("x:Q"), y=Y("y:Q"), text="t:N"))
        adf = pd.DataFrame({"x": [a for a, b in B_ARROWS], "x2": [b for a, b in B_ARROWS], "y": yarr})
        layers.append(alt.Chart(adf).mark_rule(color="#000", strokeWidth=1).encode(
            x=X("x:Q"), x2="x2:Q", y=Y("y:Q")))
        sdf2 = pd.DataFrame({"x": B_STOPS, "y": dy(497), "y2": dy(502)})
        layers.append(alt.Chart(sdf2).mark_rule(color="#000", strokeWidth=1).encode(
            x=X("x:Q"), y=Y("y:Q"), y2="y2:Q"))
        hr = pd.DataFrame({"x": B_HEAD_RIGHT, "y": yarr})
        layers.append(alt.Chart(hr).mark_point(shape="M-1,-0.7L0,0L-1,0.7", filled=False, size=45,
                                               color="#000", strokeWidth=1, opacity=1).encode(
            x=X("x:Q"), y=Y("y:Q")))
        hl = pd.DataFrame({"x": B_HEAD_LEFT, "y": yarr})
        layers.append(alt.Chart(hl).mark_point(shape="M1,-0.7L0,0L1,0.7", filled=False, size=45,
                                               color="#000", strokeWidth=1, opacity=1).encode(
            x=X("x:Q"), y=Y("y:Q")))
        sites = pd.DataFrame({"x": [a for a, b in B_SITES], "x2": [b for a, b in B_SITES], "y": ysite})
        layers.append(alt.Chart(sites).mark_rule(color="#7b63b0", strokeWidth=4, strokeCap="butt").encode(
            x=X("x:Q"), x2="x2:Q", y=Y("y:Q")))

    return alt.layer(*layers).properties(width=L["w"], height=H)


rows = [build_row(L) for L in ROWS]
chart = alt.vconcat(*rows, spacing=0, bounds="flush",
                    padding={"left": 1, "top": 0, "right": 0, "bottom": 0}).resolve_scale(
    x="independent", y="independent", color="shared").configure_view(stroke=None)

chart.save("out.html", embed_options={"renderer": "svg", "actions": False})
